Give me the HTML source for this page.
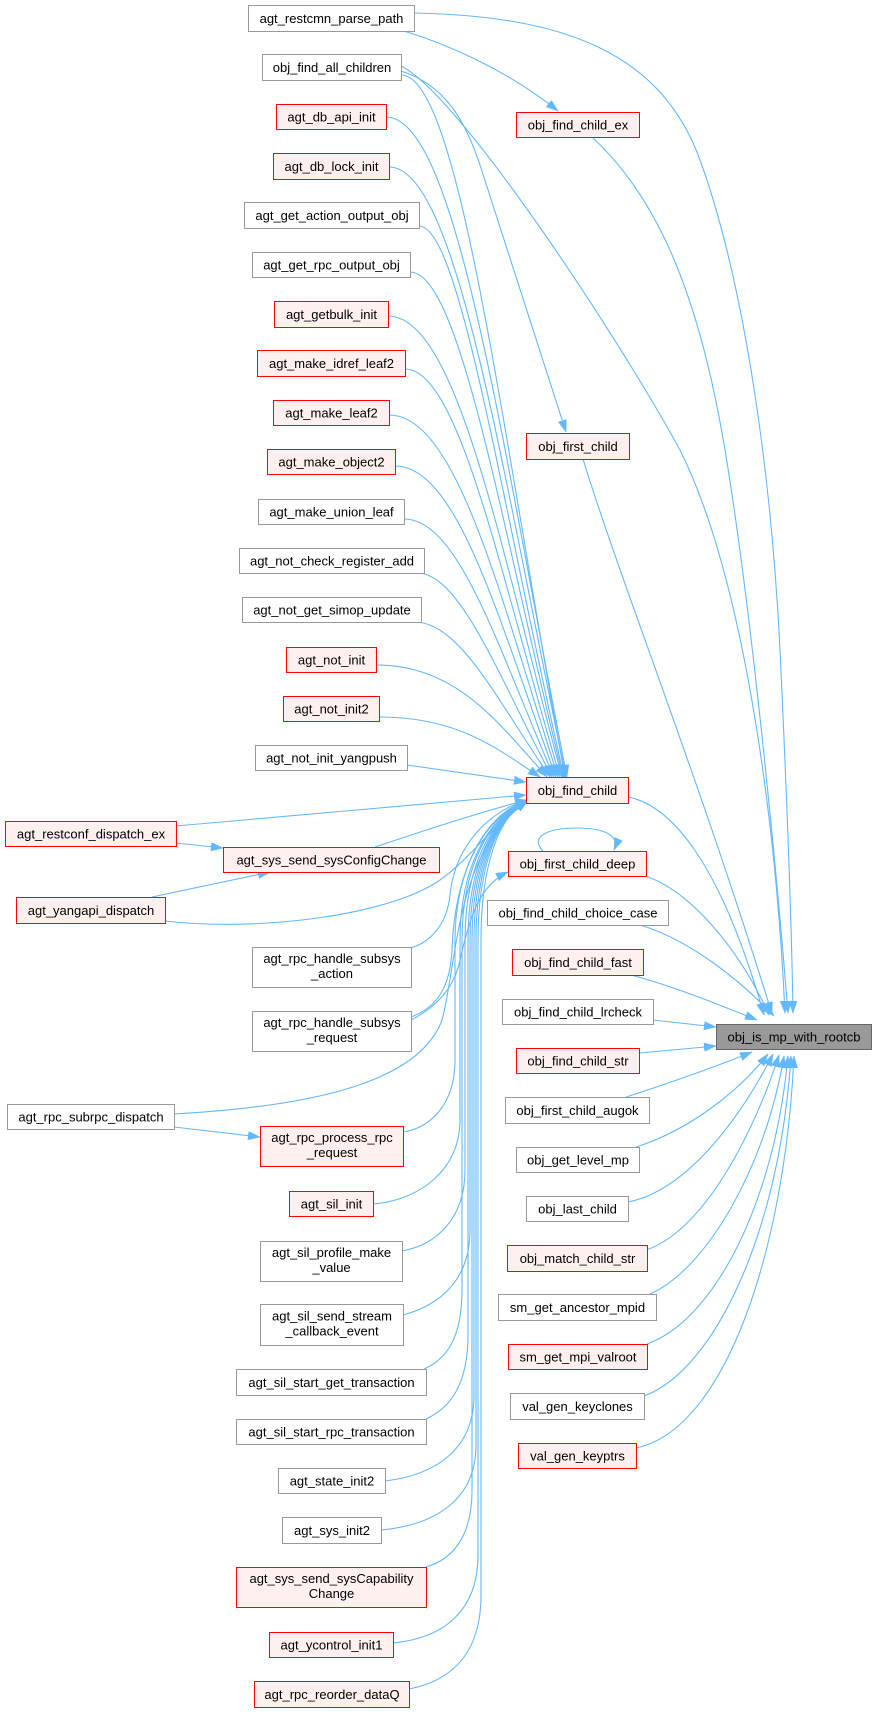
<!DOCTYPE html>
<html>
<head>
<meta charset="utf-8">
<style>
html,body{margin:0;padding:0;background:#fff;}
svg{display:block;}
text{font-family:"Liberation Sans",Arial,sans-serif;font-size:13px;fill:#000;}
</style>
</head>
<body>
<svg width="876" height="1712" viewBox="0 0 876 1712" xmlns="http://www.w3.org/2000/svg">
<defs>
<marker id="a" markerWidth="13" markerHeight="10" refX="12" refY="4.25" orient="auto" markerUnits="userSpaceOnUse">
<path d="M0,0 L12,4.25 L0,8.5 z" fill="#63b8ff" stroke="#63b8ff" stroke-width="0.5"/>
</marker>
</defs>

<g fill="none" stroke="#63b8ff" stroke-width="1.1" marker-end="url(#a)">
<!-- to obj_is_mp_with_rootcb -->
<path d="M414,13 C560,16 660,50 700,160 C740,270 770,450 780,650 C788,820 792,950 793,1013"/>
<path d="M401,66 C460,95 620,340 680,450 C740,570 775,800 785,1013"/>
<path d="M592,137 C660,200 700,300 725,450 C750,600 775,850 788,1013"/>
<path d="M583,459 C620,580 700,780 772,1014"/>
<path d="M628,797 C670,805 720,860 764,1015"/>
<path d="M645,876 C690,890 740,950 769,1015"/>
<path d="M640,925 C690,940 740,980 774,1016"/>
<path d="M631,975 C670,985 720,1005 757,1020"/>
<path d="M653,1020 L716,1027"/>
<path d="M639,1053 L716,1046"/>
<path d="M626,1097 C670,1083 720,1065 752,1052"/>
<path d="M636,1147 C690,1130 740,1090 768,1054"/>
<path d="M628,1202 C690,1190 745,1110 773,1054"/>
<path d="M646,1250 C705,1230 755,1130 779,1055"/>
<path d="M650,1294 C705,1270 765,1170 784,1056"/>
<path d="M647,1344 C715,1320 775,1200 788,1056"/>
<path d="M644,1396 C715,1370 780,1230 791,1056"/>
<path d="M636,1448 C725,1430 785,1250 794,1056"/>

<!-- other -->
<path d="M404,31 C450,45 510,72 558,111"/>
<path d="M401,71 C445,85 465,120 480,165 L566,432"/>
<path d="M543,851 C530,838 545,828 577,828 C605,828 620,836 614,850"/>

<!-- top nodes to obj_find_child -->
<path d="M401,75 C459,75 501,426 565,777"/>
<path d="M386,117 C457,117 502,447 567,777"/>
<path d="M389,167 C457,167 502,472 566,777"/>
<path d="M419,226 C460,226 501,501 564,777"/>
<path d="M410,272 C460,272 501,524 563,777"/>
<path d="M388,316 C457,316 500,546 562,777"/>
<path d="M405,369 C459,369 500,573 560,777"/>
<path d="M389,415 C457,415 500,596 558,777"/>
<path d="M395,466 C458,466 499,621 556,777"/>
<path d="M404,519 C459,519 498,648 554,777"/>
<path d="M417,573 C460,573 498,675 552,777"/>
<path d="M414,622 C460,622 497,700 550,777"/>
<path d="M376,665 C456,665 497,721 547,777"/>
<path d="M379,717 C457,717 495,747 540,777"/>
<path d="M407,765 L526,782"/>

<!-- left / lower nodes -->
<path d="M176,826 C300,815 420,805 526,795"/>
<path d="M176,843 L223,848"/>
<path d="M375,847 C420,832 480,812 527,800"/>
<path d="M165,921 C260,932 390,915 440,880 C475,855 500,815 528,801"/>
<path d="M152,897 L270,872"/>
<path d="M174,1114 C320,1106 420,1080 442,1020 C458,960 455,850 528,801"/>
<path d="M174,1127 L260,1137"/>
<path d="M411,948 C430,942 447,925 450,895 C455,845 490,810 528,800"/>
<path d="M411,1017 C435,1008 450,990 452,950 C454,880 480,815 528,800"/>
<path d="M411,1020 C440,1005 455,985 460,960 C470,915 480,885 508,872"/>
<path d="M403,1132 C430,1128 455,1105 455,1060 L455,940 C455,870 485,815 528,801"/>
<path d="M373,1204 C420,1200 460,1170 460,1120 L460,940 C460,870 487,815 528,801"/>
<path d="M402,1251 C435,1245 465,1220 465,1170 L465,940 C465,870 490,815 528,801"/>
<path d="M403,1315 C440,1305 470,1280 470,1230 L470,940 C470,870 492,815 528,801"/>
<path d="M424,1369 C445,1360 462,1340 462,1290 L462,940 C462,870 488,815 528,801"/>
<path d="M426,1419 C450,1408 468,1385 468,1335 L468,940 C468,870 491,815 528,801"/>
<path d="M385,1481 C435,1475 474,1450 474,1395 L474,940 C474,870 494,815 528,801"/>
<path d="M381,1530 C435,1525 476,1500 476,1445 L476,940 C476,870 495,815 528,801"/>
<path d="M426,1567 C450,1560 472,1540 472,1490 L472,940 C472,870 493,815 528,801"/>
<path d="M393,1643 C445,1638 478,1610 478,1555 L478,940 C478,870 496,815 528,801"/>
<path d="M409,1689 C455,1680 481,1650 481,1595 L481,940 C481,870 497,815 528,801"/>
</g>

<!-- nodes -->
<g stroke-width="1">
<!-- column 2 top -->
<rect x="248.5" y="5.5" width="166" height="26" fill="#ffffff" stroke="#999999"/>
<text x="331.5" y="23" text-anchor="middle">agt_restcmn_parse_path</text>
<rect x="262.5" y="54.5" width="139" height="26" fill="#ffffff" stroke="#999999"/>
<text x="332" y="72" text-anchor="middle">obj_find_all_children</text>
<rect x="276.5" y="104.5" width="110" height="25" fill="#fff0f0" stroke="#ff0000"/>
<text x="331.5" y="121.5" text-anchor="middle">agt_db_api_init</text>
<rect x="273.5" y="153.5" width="116" height="26" fill="#fff0f0" stroke="#ff0000"/>
<text x="331.5" y="171" text-anchor="middle">agt_db_lock_init</text>
<rect x="244.5" y="202.5" width="175" height="26" fill="#ffffff" stroke="#999999"/>
<text x="332" y="220" text-anchor="middle">agt_get_action_output_obj</text>
<rect x="252.5" y="252.5" width="158" height="25" fill="#ffffff" stroke="#999999"/>
<text x="331.5" y="269.5" text-anchor="middle">agt_get_rpc_output_obj</text>
<rect x="274.5" y="301.5" width="114" height="26" fill="#fff0f0" stroke="#ff0000"/>
<text x="331.5" y="319" text-anchor="middle">agt_getbulk_init</text>
<rect x="257.5" y="350.5" width="148" height="26" fill="#fff0f0" stroke="#ff0000"/>
<text x="331.5" y="368" text-anchor="middle">agt_make_idref_leaf2</text>
<rect x="273.5" y="400.5" width="116" height="25" fill="#fff0f0" stroke="#ff0000"/>
<text x="331.5" y="417.5" text-anchor="middle">agt_make_leaf2</text>
<rect x="267.5" y="449.5" width="128" height="25" fill="#fff0f0" stroke="#ff0000"/>
<text x="331.5" y="466.5" text-anchor="middle">agt_make_object2</text>
<rect x="258.5" y="499.5" width="146" height="25" fill="#ffffff" stroke="#999999"/>
<text x="331.5" y="516.5" text-anchor="middle">agt_make_union_leaf</text>
<rect x="239.5" y="548.5" width="185" height="25" fill="#ffffff" stroke="#999999"/>
<text x="332" y="565.5" text-anchor="middle">agt_not_check_register_add</text>
<rect x="242.5" y="597.5" width="179" height="25" fill="#ffffff" stroke="#999999"/>
<text x="332" y="614.5" text-anchor="middle">agt_not_get_simop_update</text>
<rect x="286.5" y="647.5" width="90" height="25" fill="#fff0f0" stroke="#ff0000"/>
<text x="331.5" y="664.5" text-anchor="middle">agt_not_init</text>
<rect x="283.5" y="696.5" width="96" height="25" fill="#fff0f0" stroke="#ff0000"/>
<text x="331.5" y="713.5" text-anchor="middle">agt_not_init2</text>
<rect x="255.5" y="745.5" width="152" height="25" fill="#ffffff" stroke="#999999"/>
<text x="331.5" y="762.5" text-anchor="middle">agt_not_init_yangpush</text>

<!-- column 1 -->
<rect x="5.5" y="821.5" width="171" height="25" fill="#fff0f0" stroke="#ff0000"/>
<text x="91" y="838.5" text-anchor="middle">agt_restconf_dispatch_ex</text>
<rect x="16.5" y="897.5" width="149" height="26" fill="#fff0f0" stroke="#ff0000"/>
<text x="91" y="915" text-anchor="middle">agt_yangapi_dispatch</text>
<rect x="7.5" y="1104.5" width="167" height="25" fill="#ffffff" stroke="#999999"/>
<text x="91" y="1121.5" text-anchor="middle">agt_rpc_subrpc_dispatch</text>

<!-- column 2 lower -->
<rect x="223.5" y="847.5" width="216" height="25" fill="#fff0f0" stroke="#ff0000"/>
<text x="331.5" y="864.5" text-anchor="middle">agt_sys_send_sysConfigChange</text>
<rect x="252.5" y="947.5" width="159" height="40" fill="#ffffff" stroke="#999999"/>
<text x="332" y="963" text-anchor="middle">agt_rpc_handle_subsys</text>
<text x="332" y="978" text-anchor="middle">_action</text>
<rect x="252.5" y="1011.5" width="159" height="40" fill="#ffffff" stroke="#999999"/>
<text x="332" y="1027" text-anchor="middle">agt_rpc_handle_subsys</text>
<text x="332" y="1042" text-anchor="middle">_request</text>
<rect x="260.5" y="1126.5" width="143" height="40" fill="#fff0f0" stroke="#ff0000"/>
<text x="332" y="1142" text-anchor="middle">agt_rpc_process_rpc</text>
<text x="332" y="1157" text-anchor="middle">_request</text>
<rect x="289.5" y="1191.5" width="84" height="25" fill="#fff0f0" stroke="#ff0000"/>
<text x="331.5" y="1208.5" text-anchor="middle">agt_sil_init</text>
<rect x="260.5" y="1241.5" width="142" height="40" fill="#ffffff" stroke="#999999"/>
<text x="331.5" y="1257" text-anchor="middle">agt_sil_profile_make</text>
<text x="331.5" y="1272" text-anchor="middle">_value</text>
<rect x="260.5" y="1304.5" width="143" height="41" fill="#ffffff" stroke="#999999"/>
<text x="332" y="1320.5" text-anchor="middle">agt_sil_send_stream</text>
<text x="332" y="1335.5" text-anchor="middle">_callback_event</text>
<rect x="236.5" y="1369.5" width="190" height="26" fill="#ffffff" stroke="#999999"/>
<text x="331.5" y="1387" text-anchor="middle">agt_sil_start_get_transaction</text>
<rect x="236.5" y="1419.5" width="190" height="25" fill="#ffffff" stroke="#999999"/>
<text x="331.5" y="1436.5" text-anchor="middle">agt_sil_start_rpc_transaction</text>
<rect x="278.5" y="1468.5" width="107" height="25" fill="#ffffff" stroke="#999999"/>
<text x="332" y="1485.5" text-anchor="middle">agt_state_init2</text>
<rect x="282.5" y="1517.5" width="99" height="26" fill="#ffffff" stroke="#999999"/>
<text x="332" y="1535" text-anchor="middle">agt_sys_init2</text>
<rect x="236.5" y="1567.5" width="190" height="40" fill="#fff0f0" stroke="#ff0000"/>
<text x="331.5" y="1583" text-anchor="middle">agt_sys_send_sysCapability</text>
<text x="331.5" y="1598" text-anchor="middle">Change</text>
<rect x="269.5" y="1632.5" width="124" height="25" fill="#fff0f0" stroke="#ff0000"/>
<text x="331.5" y="1649.5" text-anchor="middle">agt_ycontrol_init1</text>
<rect x="254.5" y="1681.5" width="155" height="26" fill="#fff0f0" stroke="#ff0000"/>
<text x="332" y="1699" text-anchor="middle">agt_rpc_reorder_dataQ</text>

<!-- column 3 -->
<rect x="516.5" y="112.5" width="123" height="25" fill="#fff0f0" stroke="#ff0000"/>
<text x="578" y="129.5" text-anchor="middle">obj_find_child_ex</text>
<rect x="526.5" y="433.5" width="103" height="26" fill="#fff0f0" stroke="#ff0000"/>
<text x="578" y="451" text-anchor="middle">obj_first_child</text>
<rect x="526.5" y="777.5" width="102" height="26" fill="#fff0f0" stroke="#ff0000"/>
<text x="577.5" y="795" text-anchor="middle">obj_find_child</text>
<rect x="508.5" y="851.5" width="138" height="25" fill="#fff0f0" stroke="#ff0000"/>
<text x="577.5" y="868.5" text-anchor="middle">obj_first_child_deep</text>
<rect x="487.5" y="900.5" width="181" height="25" fill="#ffffff" stroke="#999999"/>
<text x="578" y="917.5" text-anchor="middle">obj_find_child_choice_case</text>
<rect x="512.5" y="949.5" width="131" height="26" fill="#fff0f0" stroke="#ff0000"/>
<text x="578" y="967" text-anchor="middle">obj_find_child_fast</text>
<rect x="502.5" y="999.5" width="151" height="25" fill="#ffffff" stroke="#999999"/>
<text x="578" y="1016.5" text-anchor="middle">obj_find_child_lrcheck</text>
<rect x="516.5" y="1048.5" width="123" height="25" fill="#fff0f0" stroke="#ff0000"/>
<text x="578" y="1065.5" text-anchor="middle">obj_find_child_str</text>
<rect x="505.5" y="1097.5" width="144" height="26" fill="#ffffff" stroke="#999999"/>
<text x="577.5" y="1115" text-anchor="middle">obj_first_child_augok</text>
<rect x="516.5" y="1147.5" width="123" height="25" fill="#ffffff" stroke="#999999"/>
<text x="578" y="1164.5" text-anchor="middle">obj_get_level_mp</text>
<rect x="526.5" y="1196.5" width="102" height="25" fill="#ffffff" stroke="#999999"/>
<text x="577.5" y="1213.5" text-anchor="middle">obj_last_child</text>
<rect x="507.5" y="1245.5" width="140" height="26" fill="#fff0f0" stroke="#ff0000"/>
<text x="577.5" y="1263" text-anchor="middle">obj_match_child_str</text>
<rect x="498.5" y="1294.5" width="158" height="26" fill="#ffffff" stroke="#999999"/>
<text x="577.5" y="1312" text-anchor="middle">sm_get_ancestor_mpid</text>
<rect x="508.5" y="1344.5" width="139" height="25" fill="#fff0f0" stroke="#ff0000"/>
<text x="578" y="1361.5" text-anchor="middle">sm_get_mpi_valroot</text>
<rect x="510.5" y="1393.5" width="134" height="26" fill="#ffffff" stroke="#999999"/>
<text x="577.5" y="1411" text-anchor="middle">val_gen_keyclones</text>
<rect x="518.5" y="1443.5" width="118" height="25" fill="#fff0f0" stroke="#ff0000"/>
<text x="577.5" y="1460.5" text-anchor="middle">val_gen_keyptrs</text>

<!-- root -->
<rect x="716.5" y="1024.5" width="155" height="25" fill="#999999" stroke="#666666"/>
<text x="794" y="1041.5" text-anchor="middle">obj_is_mp_with_rootcb</text>
</g>
</svg>
</body>
</html>
